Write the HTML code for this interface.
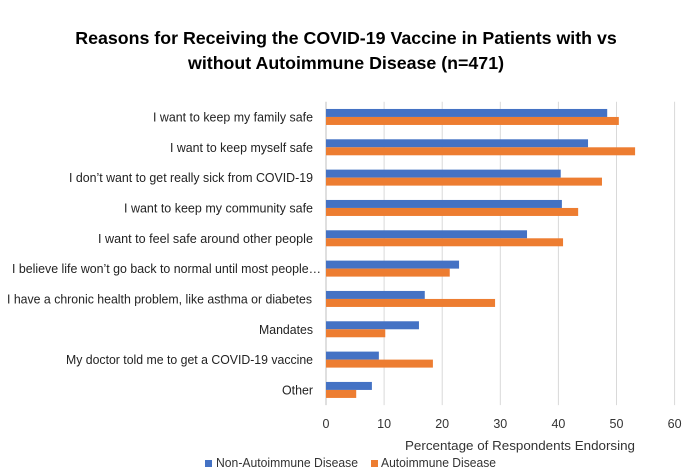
<!DOCTYPE html>
<html><head><meta charset="utf-8"><style>
html,body{margin:0;padding:0;background:#fff;}
svg{display:block;font-family:"Liberation Sans",Arial,sans-serif;}
</style></head><body>
<svg id="chart" width="693" height="473" viewBox="0 0 693 473" xmlns="http://www.w3.org/2000/svg">
<rect width="693" height="473" fill="#fff"/>
<text x="346" y="44" text-anchor="middle" font-size="17.8" font-weight="bold" fill="#000">Reasons for Receiving the COVID-19 Vaccine in Patients with vs</text>
<text x="346" y="69" text-anchor="middle" font-size="17.8" font-weight="bold" fill="#000">without Autoimmune Disease (n=471)</text>
<g id="grid"></g><g id="bars"></g><g id="labels"></g><g id="ticks"></g>
<text x="405" y="450" textLength="230" lengthAdjust="spacingAndGlyphs" font-size="13" fill="#333">Percentage of Respondents Endorsing</text>
<g>
<rect x="205" y="460" width="7" height="7" fill="#4472C4"/>
<text x="216" y="467" textLength="142" lengthAdjust="spacingAndGlyphs" font-size="13" fill="#333">Non-Autoimmune Disease</text>
<rect x="371" y="460" width="7" height="7" fill="#ED7D31"/>
<text x="381" y="467" textLength="115" lengthAdjust="spacingAndGlyphs" font-size="13" fill="#333">Autoimmune Disease</text>
</g>
</svg>
<script>
const categories = ["I want to keep my family safe","I want to keep myself safe","I don\u2019t want to get really sick from COVID-19","I want to keep my community safe","I want to feel safe around other people","I believe life won\u2019t go back to normal until most people\u2026","I have a chronic health problem, like asthma or diabetes","Mandates","My doctor told me to get a COVID-19 vaccine","Other"];
const nonAutoimmune = [48.4,45.1,40.4,40.6,34.6,22.9,17.0,16.0,9.1,7.9];
const autoimmune = [50.4,53.2,47.5,43.4,40.8,21.3,29.1,10.2,18.4,5.2];
const tickValues = [0,10,20,30,40,50,60];

const NS="http://www.w3.org/2000/svg";
const x0=326, pxPer=5.81, plotTop=101.8, band=30.33, barH=8;
const labelWidths=[160,143,244,189,215,309,305,54,247,31];
const labelRight=[313,313,313,313,313,321,312,313,313,313];
const xs=v=>x0+v*pxPer;
const yc=i=>plotTop+band*(i+0.5);
function mk(tag,attrs,parent){const e=document.createElementNS(NS,tag);for(const k in attrs)e.setAttribute(k,attrs[k]);document.getElementById(parent).appendChild(e);return e;}
tickValues.forEach(t=>{
  const g=mk("line",{x1:xs(t),x2:xs(t),y1:plotTop,y2:plotTop+band*categories.length,stroke:t===0?"#bfbfbf":"#d9d9d9","stroke-width":1},"grid");
  
  
  const l=mk("text",{x:xs(t),y:428,"text-anchor":"middle","font-size":12.5,fill:"#333"},"ticks");
  l.textContent=t;
  
  
});
categories.forEach((c,i)=>{
  const b1=mk("rect",{x:x0,y:yc(i)-barH,width:xs(nonAutoimmune[i])-x0,height:barH,fill:"#4472C4"},"bars");
  
  
  const b2=mk("rect",{x:x0,y:yc(i),width:xs(autoimmune[i])-x0,height:barH,fill:"#ED7D31"},"bars");
  
  
  const at={x:labelRight[i]-labelWidths[i],y:yc(i)+4.5,"font-size":12.8,fill:"#222",textLength:labelWidths[i],lengthAdjust:"spacingAndGlyphs"};
  const t=mk("text",at,"labels");
  t.textContent=c;
  
  
});
</script>
</body></html>
